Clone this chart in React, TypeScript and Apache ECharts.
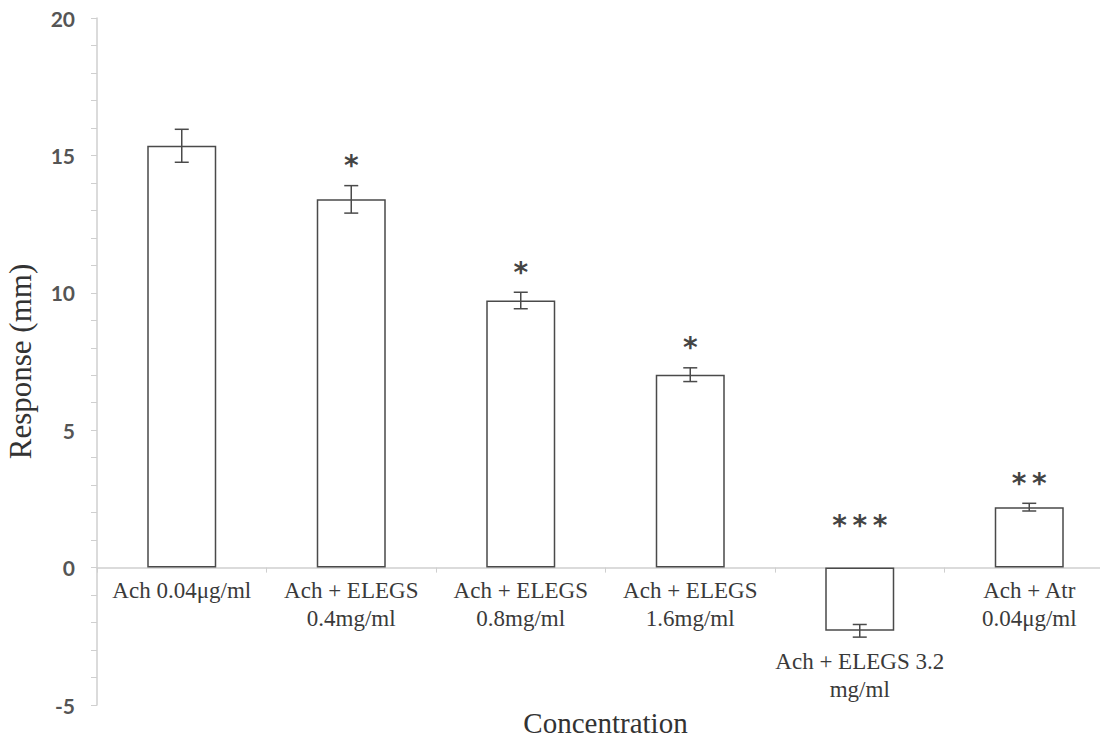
import React, { useEffect, useRef } from "react";
import * as echarts from "echarts";

const categories = [
  "Ach 0.04μg/ml",
  "Ach + ELEGS\n0.4mg/ml",
  "Ach + ELEGS\n0.8mg/ml",
  "Ach + ELEGS\n1.6mg/ml",
  "Ach + ELEGS 3.2\nmg/ml",
  "Ach + Atr\n0.04μg/ml",
];
const means = [15.35, 13.4, 9.72, 7.02, -2.3, 2.2];
const errors = [0.6, 0.5, 0.3, 0.25, 0.23, 0.14];
const stars = ["", "*", "*", "*", "***", "**"];
const yTicks = { min: -5, max: 20, interval: 5 };

export default function App() {
  const ref = useRef<HTMLDivElement>(null);
  useEffect(() => {
    if (!ref.current) return;
    document.body.style.margin = "0";
    document.body.style.overflow = "hidden";
    const chart = echarts.init(ref.current, null, { renderer: "svg" });
    const serif = "'Liberation Serif', 'Times New Roman', serif";
    const errData = means.map((m, i) => [i, m, errors[i]]);
    const gridTop = 18;
    const gridBottom = 33;
    const plotH = 738 - gridTop - gridBottom;
    const zeroOffset = (plotH * (0 - yTicks.min)) / (yTicks.max - yTicks.min);
    const labelStyle = { fontFamily: serif, fontSize: 23, lineHeight: 28, color: "#3a3a3a" };
    chart.setOption({
      animation: false,
      backgroundColor: "#ffffff",
      grid: {
        left: 97,
        top: gridTop,
        bottom: gridBottom,
        width: 1017,
        containLabel: false,
        outerBoundsMode: "none",
      },
      xAxis: {
        type: "category",
        data: categories,
        position: "bottom",
        offset: -zeroOffset,
        name: "Concentration",
        nameLocation: "middle",
        nameGap: 111,
        nameTextStyle: { fontFamily: serif, fontSize: 29, color: "#333" },
        axisLine: { onZero: false, lineStyle: { color: "#cfcfcf", width: 1.5 } },
        axisTick: { show: true, length: 5, lineStyle: { color: "#cfcfcf" } },
        axisLabel: {
          interval: 0,
          ...labelStyle,
          margin: 9,
          formatter: (v: string, i: number) =>
            i === 4
              ? "{g| }\n" + v.split("\n").map((l) => "{t|" + l + "}").join("\n")
              : v,
          rich: {
            g: { ...labelStyle, lineHeight: 71 },
            t: { ...labelStyle },
          },
        },
      },
      yAxis: {
        type: "value",
        min: yTicks.min,
        max: yTicks.max,
        interval: yTicks.interval,
        name: "Response (mm)",
        nameLocation: "middle",
        nameGap: 61,
        nameTextStyle: { fontFamily: serif, fontSize: 31, color: "#333" },
        axisLine: { show: true, lineStyle: { color: "#cfcfcf", width: 1.5 } },
        axisTick: { show: true, length: 6, lineStyle: { color: "#cfcfcf" } },
        minorTick: { show: true, splitNumber: 5, length: 6, lineStyle: { color: "#cfcfcf" } },
        splitLine: { show: false },
        axisLabel: {
          fontFamily: "Lato, 'Open Sans', sans-serif",
          fontWeight: "bold",
          fontSize: 21,
          color: "#555",
          margin: 22,
        },
      },
      series: [
        {
          type: "bar",
          data: means,
          barWidth: 69,
          itemStyle: { color: "#ffffff", borderColor: "#4a4a4a", borderWidth: 1.5 },
          z: 2,
        },
        {
          type: "custom",
          data: errData,
          z: 3,
          renderItem: (params: any, api: any) => {
            const i = api.value(0);
            const m = api.value(1);
            const e = api.value(2);
            const s = stars[params.dataIndex];
            const top = api.coord([i, m + e]);
            const bot = api.coord([i, m - e]);
            const x = top[0];
            const cap = 7;
            const style = { stroke: "#4a4a4a", lineWidth: 1.5 };
            const children: any[] = [
              { type: "line", shape: { x1: x, y1: top[1], x2: x, y2: bot[1] }, style },
              { type: "line", shape: { x1: x - cap, y1: top[1], x2: x + cap, y2: top[1] }, style },
              { type: "line", shape: { x1: x - cap, y1: bot[1], x2: x + cap, y2: bot[1] }, style },
            ];
            if (s) {
              const baseY = m >= 0 ? top[1] - 20 : api.coord([i, 0])[1] - 42;
              children.push({
                type: "text",
                style: {
                  text: s.split("").join("\u2009"),
                  x,
                  y: baseY,
                  align: "center",
                  verticalAlign: "middle",
                  fontFamily: "'DejaVu Sans', sans-serif",
                  fontWeight: "bold",
                  fontSize: 28,
                  fill: "#444",
                },
              });
            }
            return { type: "group", children };
          },
        },
      ],
    });
    return () => chart.dispose();
  }, []);
  return <div ref={ref} style={{ width: 1100, height: 738 }} />;
}
